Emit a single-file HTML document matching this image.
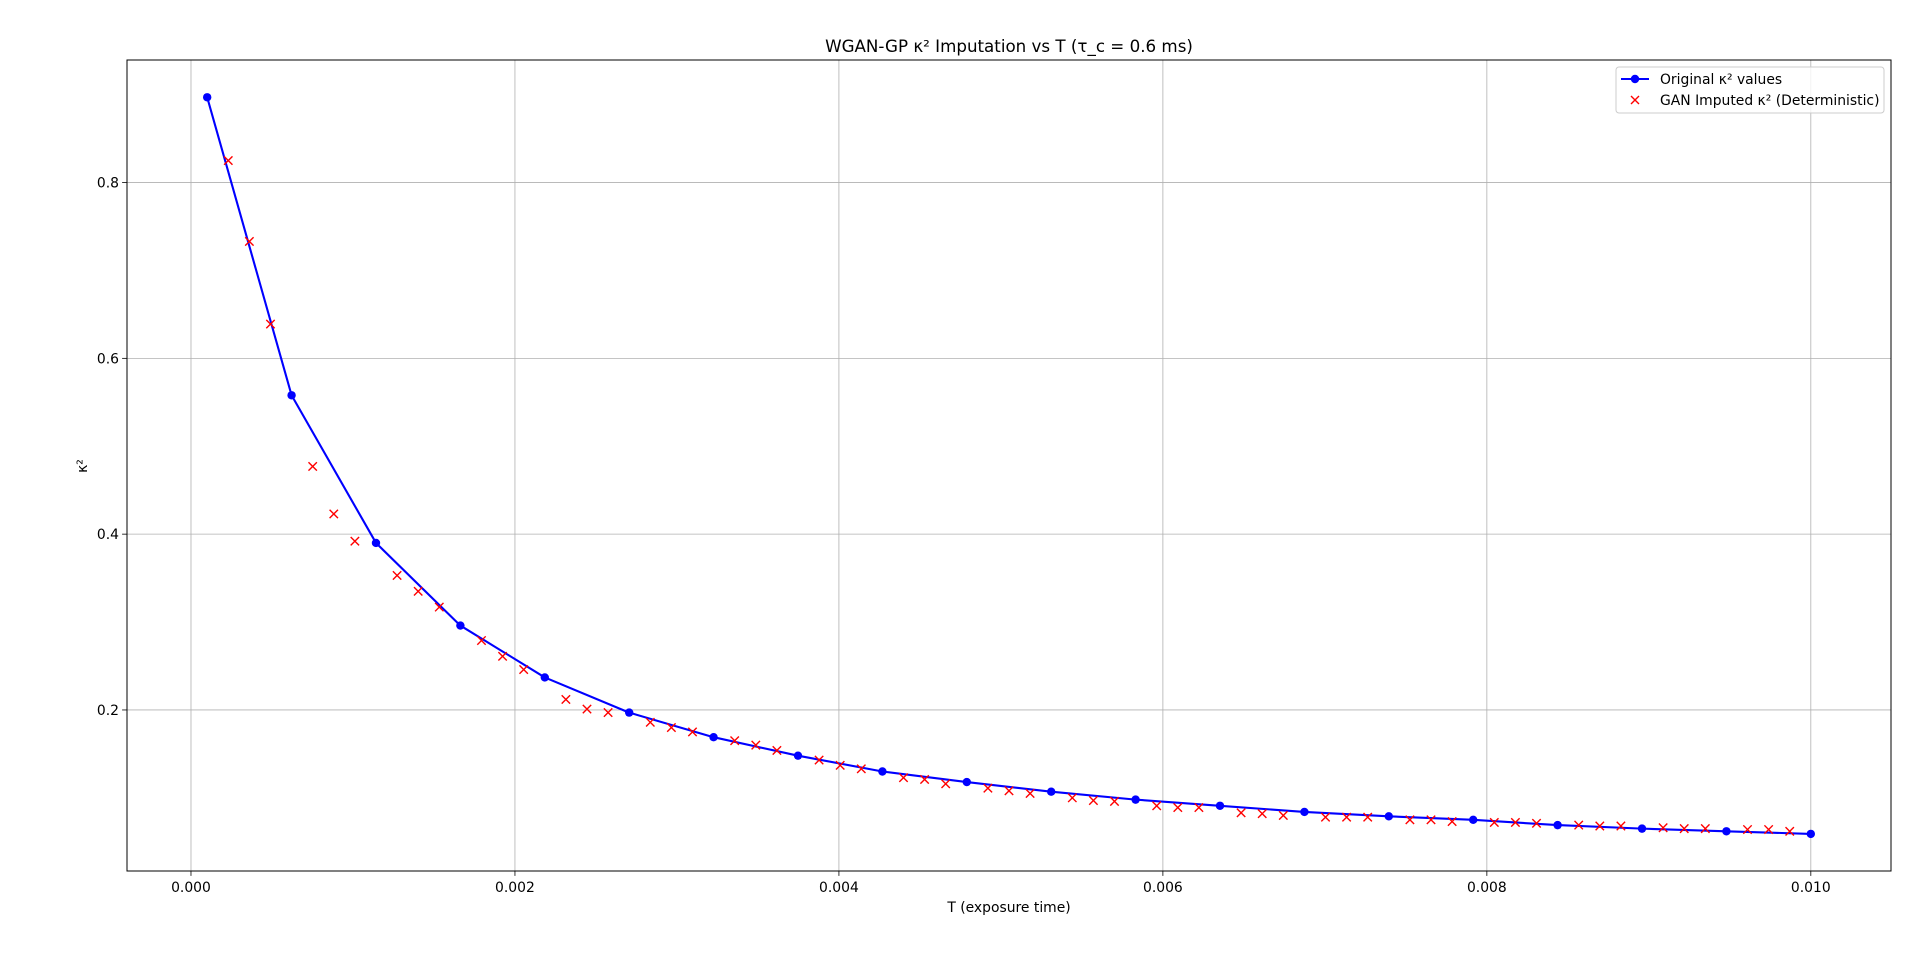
<!DOCTYPE html>
<html><head><meta charset="utf-8"><style>
html,body{margin:0;padding:0;background:#fff;}
svg{display:block;font-family:"DejaVu Sans","Liberation Sans",sans-serif;}
</style></head><body>
<svg id="chart" width="1920" height="965" viewBox="0 0 1920 965" xmlns="http://www.w3.org/2000/svg">
<rect x="0" y="0" width="1920" height="965" fill="#fff"/>
<text x="1009" y="52" font-size="16.7" text-anchor="middle" fill="#000">WGAN-GP κ² Imputation vs T (τ_c = 0.6 ms)</text>
<g id="grid"></g>
<g id="ticks"></g>
<g id="series"></g>
<rect x="127" y="60" width="1764" height="811" fill="none" stroke="#000" stroke-width="1"/>
<text x="1009" y="912" font-size="13.9" text-anchor="middle">T (exposure time)</text>
<text x="0" y="0" font-size="13.9" text-anchor="middle" transform="translate(87,466) rotate(-90)">κ²</text>
<g>
<rect x="1616" y="67" width="268" height="46" rx="3" fill="#fff" fill-opacity="0.8" stroke="#ccc" stroke-width="1"/>
<g>
<line x1="1621" y1="79" x2="1649" y2="79" stroke="#0000ff" stroke-width="2.1"/>
<circle cx="1635" cy="79" r="4.2" fill="#0000ff"/>
<text x="1660" y="84" font-size="13.9">Original κ² values</text>
</g>
<g>
<path d="M1631,96 L1639,104 M1639,96 L1631,104" stroke="#ff0000" stroke-width="1.4"/>
<text x="1660" y="105" font-size="13.9">GAN Imputed κ² (Deterministic)</text>
</g>
</g>
</svg>
<script>
const xTicks = [0, 0.002, 0.004, 0.006, 0.008, 0.010];
const xTickLabels = ["0.000","0.002","0.004","0.006","0.008","0.010"];
const yTicks = [0.2, 0.4, 0.6, 0.8];
const yTickLabels = ["0.2","0.4","0.6","0.8"];
const tStart = 0.0001, tEnd = 0.01, nPoints = 77;
const origIdx = [0,4,8,12,16,20,24,28,32,36,40,44,48,52,56,60,64,68,72,76];
const origVals = [0.897,0.558,0.390,0.296,0.237,0.197,0.169,0.148,0.130,0.118,0.107,0.098,0.091,0.084,0.079,0.075,0.069,0.065,0.062,0.059];
const impIdx = [1,2,3,5,6,7,9,10,11,13,14,15,17,18,19,21,22,23,25,26,27,29,30,31,33,34,35,37,38,39,41,42,43,45,46,47,49,50,51,53,54,55,57,58,59,61,62,63,65,66,67,69,70,71,73,74,75];
const impVals = [0.825,0.733,0.639,0.477,0.423,0.392,0.353,0.335,0.317,0.279,0.261,0.246,0.212,0.201,0.197,0.186,0.180,0.175,0.165,0.160,0.154,0.143,0.137,0.133,0.123,0.121,0.116,0.111,0.108,0.105,0.100,0.097,0.096,0.091,0.089,0.089,0.083,0.082,0.080,0.078,0.078,0.078,0.075,0.075,0.073,0.072,0.072,0.071,0.069,0.068,0.068,0.066,0.065,0.065,0.064,0.064,0.062];

const L=127,R=1891,T=60,B=871;
const xMin=-0.000395,xMax=0.010495,yMin=0.0168,yMax=0.9394;
const sx=v=>L+(v-xMin)/(xMax-xMin)*(R-L);
const sy=v=>B-(v-yMin)/(yMax-yMin)*(B-T);
const tOf=i=>tStart+i*(tEnd-tStart)/(nPoints-1);
const NS="http://www.w3.org/2000/svg";
function mk(tag,attrs,parent){const e=document.createElementNS(NS,tag);for(const k in attrs)e.setAttribute(k,attrs[k]);parent.appendChild(e);return e;}
const grid=document.getElementById('grid'),ticks=document.getElementById('ticks'),series=document.getElementById('series');
xTicks.forEach((v,i)=>{
  const x=sx(v);
  const g=mk('line',{x1:x,y1:T,x2:x,y2:B,stroke:'#b0b0b0','stroke-width':0.8},grid);
  
  
  const t=mk('line',{x1:x,y1:B,x2:x,y2:B+4.9,stroke:'#000','stroke-width':0.8},ticks);
  
  
  const l=mk('text',{x:x,y:B+21,'font-size':13.9,'text-anchor':'middle'},ticks);
  l.textContent=xTickLabels[i];
  
  
});
yTicks.forEach((v,i)=>{
  const y=sy(v);
  const g=mk('line',{x1:L,y1:y,x2:R,y2:y,stroke:'#b0b0b0','stroke-width':0.8},grid);
  
  
  const t=mk('line',{x1:L-4.9,y1:y,x2:L,y2:y,stroke:'#000','stroke-width':0.8},ticks);
  
  
  const l=mk('text',{x:L-8,y:y+5,'font-size':13.9,'text-anchor':'end'},ticks);
  l.textContent=yTickLabels[i];
  
  
});
const pts=origIdx.map((ix,k)=>sx(tOf(ix)).toFixed(2)+','+sy(origVals[k]).toFixed(2)).join(' ');
const line=mk('polyline',{points:pts,fill:'none',stroke:'#0000ff','stroke-width':2.1,'stroke-linejoin':'round'},series);


origIdx.forEach((ix,k)=>{
  const c=mk('circle',{cx:sx(tOf(ix)),cy:sy(origVals[k]),r:4.2,fill:'#0000ff'},series);
  
  
});
impIdx.forEach((ix,k)=>{
  const x=sx(tOf(ix)),y=sy(impVals[k]),h=4.2;
  const p=mk('path',{d:`M${x-h},${y-h} L${x+h},${y+h} M${x+h},${y-h} L${x-h},${y+h}`,stroke:'#ff0000','stroke-width':1.4,fill:'none'},series);
  
  
});
</script>
</body></html>
